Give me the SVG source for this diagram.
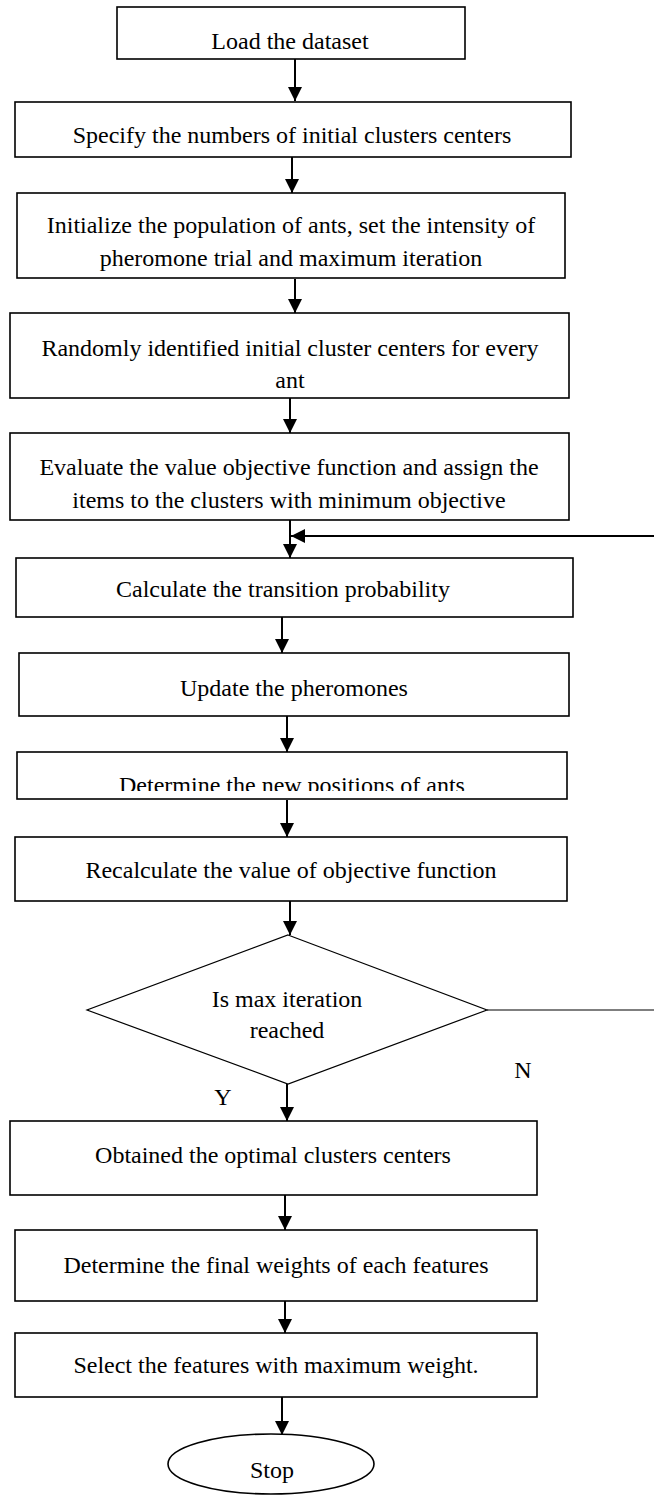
<svg xmlns="http://www.w3.org/2000/svg" width="654" height="1496" viewBox="0 0 654 1496" font-family="'Liberation Serif', 'Times New Roman', Times, 'DejaVu Serif', serif">
<style>
.box{fill:#fff;stroke:#000;stroke-width:1.6}
.dia{fill:#fff;stroke:#000;stroke-width:1.2}
.t{font-family:'Liberation Serif','Times New Roman',Times,'DejaVu Serif',serif;font-size:24px;fill:#000;text-anchor:middle}
.c{stroke:#000;stroke-width:2;fill:none}
.c1{stroke:#000;stroke-width:1.2;fill:none}
</style>
<defs>
<marker id="ah" markerUnits="userSpaceOnUse" markerWidth="14" markerHeight="14" refX="14" refY="7" orient="auto">
<path d="M0,0 L14,7 L0,14 Z" fill="#000"/>
</marker>
<clipPath id="clip8"><rect x="0" y="752" width="654" height="39"/></clipPath>
</defs>
<rect width="654" height="1496" fill="#fff"/>
<g id="connectors">
<line class="c" x1="295" y1="59" x2="295" y2="101" marker-end="url(#ah)"/>
<line class="c" x1="292" y1="157" x2="292" y2="193" marker-end="url(#ah)"/>
<line class="c" x1="295" y1="279" x2="295" y2="313" marker-end="url(#ah)"/>
<line class="c" x1="290" y1="398" x2="290" y2="433" marker-end="url(#ah)"/>
<line class="c" x1="290" y1="520" x2="290" y2="558" marker-end="url(#ah)"/>
<line class="c" x1="654" y1="536" x2="291" y2="536" marker-end="url(#ah)"/>
<line class="c" x1="282" y1="617" x2="282" y2="653" marker-end="url(#ah)"/>
<line class="c" x1="287" y1="716" x2="287" y2="752" marker-end="url(#ah)"/>
<line class="c" x1="287" y1="800" x2="287" y2="837" marker-end="url(#ah)"/>
<line class="c" x1="290" y1="901" x2="290" y2="935" marker-end="url(#ah)"/>
<line class="c1" x1="487" y1="1010" x2="654" y2="1010"/>
<line class="c" x1="287" y1="1084" x2="287" y2="1121" marker-end="url(#ah)"/>
<line class="c" x1="285" y1="1195" x2="285" y2="1230" marker-end="url(#ah)"/>
<line class="c" x1="285" y1="1301" x2="285" y2="1333" marker-end="url(#ah)"/>
<line class="c" x1="282" y1="1397" x2="282" y2="1435" marker-end="url(#ah)"/>
<text class="t" x="523" y="1078">N</text>
<text class="t" x="223" y="1105">Y</text>
</g>
<g id="n1"><rect class="box" x="117" y="7" width="348" height="52"/><text class="t" x="290" y="49">Load the dataset</text></g>
<g id="n2"><rect class="box" x="15" y="102" width="556" height="55"/><text class="t" x="292" y="143">Specify the numbers of initial clusters centers</text></g>
<g id="n3"><rect class="box" x="17" y="193" width="548" height="85"/><text class="t" x="291" y="233">Initialize the population of ants, set the intensity of</text><text class="t" x="291" y="266">pheromone trial and maximum iteration</text></g>
<g id="n4"><rect class="box" x="10" y="313" width="559" height="85"/><text class="t" x="290" y="356">Randomly identified initial cluster centers for every</text><text class="t" x="290" y="388">ant</text></g>
<g id="n5"><rect class="box" x="10" y="433" width="559" height="87"/><text class="t" x="289" y="475">Evaluate the value objective function and assign the</text><text class="t" x="289" y="508">items to the clusters with minimum objective</text></g>
<g id="n6"><rect class="box" x="16" y="558" width="557" height="59"/><text class="t" x="283" y="597">Calculate the transition probability</text></g>
<g id="n7"><rect class="box" x="19" y="653" width="550" height="63"/><text class="t" x="294" y="696">Update the pheromones</text></g>
<g id="n8"><rect class="box" x="17" y="752" width="550" height="47"/><text class="t" x="292" y="793" clip-path="url(#clip8)">Determine the new positions of ants</text></g>
<g id="n9"><rect class="box" x="15" y="837" width="552" height="64"/><text class="t" x="291" y="878">Recalculate the value of objective function</text></g>
<g id="n10"><polygon class="dia" points="288,935 487,1010 288,1084 87,1010"/><text class="t" x="287" y="1007">Is max iteration</text><text class="t" x="287" y="1038">reached</text></g>
<g id="n11"><rect class="box" x="10" y="1121" width="527" height="74"/><text class="t" x="273" y="1163">Obtained the optimal clusters centers</text></g>
<g id="n12"><rect class="box" x="15" y="1230" width="522" height="71"/><text class="t" x="276" y="1273">Determine the final weights of each features</text></g>
<g id="n13"><rect class="box" x="15" y="1333" width="522" height="64"/><text class="t" x="276" y="1373">Select the features with maximum weight.</text></g>
<g id="n14"><ellipse class="box" cx="271" cy="1464" rx="103" ry="30"/><text class="t" x="272" y="1478">Stop</text></g>
</svg>
